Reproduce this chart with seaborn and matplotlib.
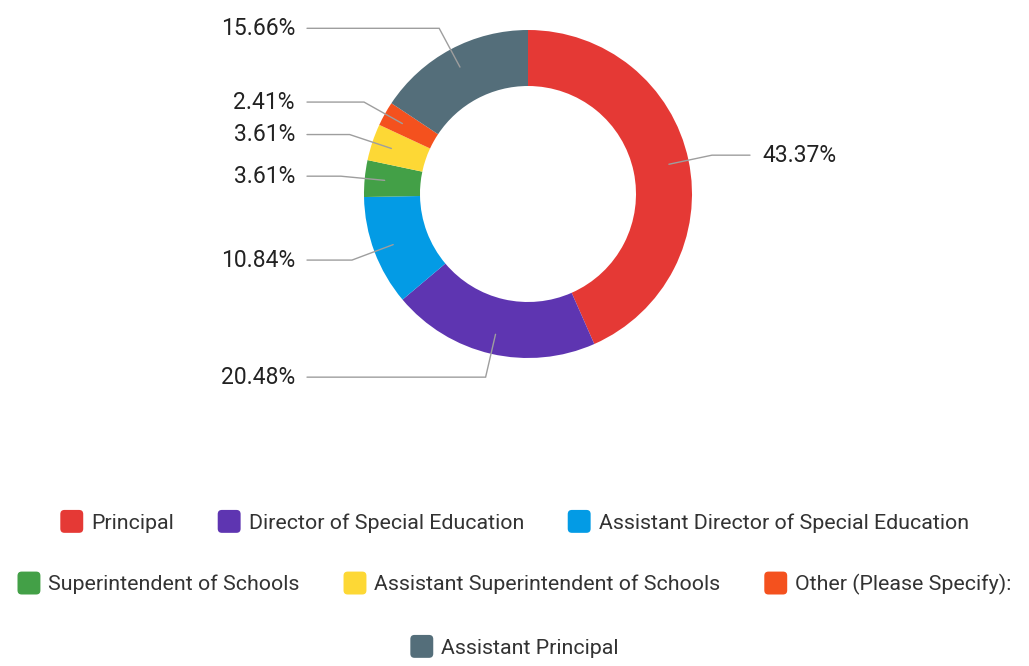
import numpy as np
import matplotlib
matplotlib.use("Agg")
import matplotlib.pyplot as plt
import matplotlib.patches as mpatches
from matplotlib.legend_handler import HandlerPatch
import seaborn as sns

# Respondent roles and their share of responses (%)
roles = [
    "Principal",
    "Director of Special Education",
    "Assistant Director of Special Education",
    "Superintendent of Schools",
    "Assistant Superintendent of Schools",
    "Other (Please Specify):",
    "Assistant Principal",
]
shares = [43.37, 20.48, 10.84, 3.61, 3.61, 2.41, 15.66]
colors = ["#E53935", "#5E35B1", "#039BE5", "#43A047", "#FDD835", "#F4511E", "#546E7A"]

sns.set_theme(style="white")
plt.rcParams["font.family"] = ["Roboto", "DejaVu Sans"]

W, H = 1029, 666
fig = plt.figure(figsize=(W / 100, H / 100), dpi=100)
ax = fig.add_axes([0, 0, 1, 1])

cx, cy = 528, H - 194
R = 164
ring = 56

wedges, _ = ax.pie(
    shares,
    colors=colors,
    startangle=90,
    counterclock=False,
    radius=R,
    center=(cx, cy),
    wedgeprops=dict(width=ring, linewidth=0),
    frame=True,
)
ax.set_xlim(0, W)
ax.set_ylim(0, H)
ax.axis("off")

# Leader lines and percentage labels
label_size = 16.5
r_in = R - ring / 2 + 8
r_out = 188
for w, val in zip(wedges, shares):
    mid = np.deg2rad((w.theta1 + w.theta2) / 2)
    x0, y0 = cx + r_in * np.cos(mid), cy + r_in * np.sin(mid)
    x1, y1 = cx + r_out * np.cos(mid), cy + r_out * np.sin(mid)
    if np.cos(mid) >= 0:
        x2 = 750
        ax.text(x2 + 12, y1, f"{val:.2f}%", ha="left", va="center",
                fontsize=label_size, color="#222222")
    else:
        x2 = 307
        ax.text(x2 - 12, y1, f"{val:.2f}%", ha="right", va="center",
                fontsize=label_size, color="#222222")
    ax.plot([x0, x1, x2], [y0, y1, y1], color="#9E9E9E", lw=1.0,
            solid_joinstyle="miter")


class RoundSquare(HandlerPatch):
    def create_artists(self, legend, orig_handle, xdescent, ydescent,
                       width, height, fontsize, trans):
        s = 16.5  # points, about 23 px
        p = mpatches.FancyBboxPatch(
            (-xdescent + (width - s) / 2, -ydescent + (height - s) / 2),
            s, s,
            boxstyle="round,pad=0,rounding_size=3",
            facecolor=orig_handle.get_facecolor(), edgecolor="none",
            transform=trans)
        return [p]


handles = [mpatches.Patch(facecolor=c, label=l) for c, l in zip(colors, roles)]
legend_size = 15.4
rows = [(0, 3, 522), (3, 6, 584), (6, 7, 647)]
for a, b, py in rows:
    leg = fig.legend(
        handles=handles[a:b], loc="center", ncol=b - a,
        bbox_to_anchor=(0.5, 1 - py / H), frameon=False,
        fontsize=legend_size, handlelength=1.07, handleheight=1.07,
        handletextpad=0.37, columnspacing=2.05, borderpad=0,
        handler_map={mpatches.Patch: RoundSquare()},
    )
    for t in leg.get_texts():
        t.set_color("#333333")

fig.savefig("out.png", dpi=100, facecolor="white")
